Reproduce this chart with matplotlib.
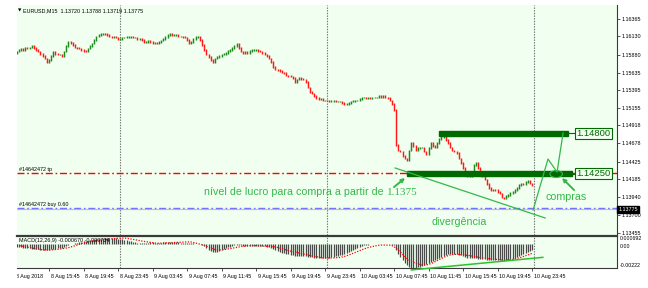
import matplotlib
matplotlib.use("Agg")
import matplotlib.pyplot as plt
import numpy as np
from matplotlib.patches import Rectangle, Ellipse
from matplotlib.transforms import Bbox, blended_transform_factory

# ---- data (EURUSD M15, bar 1 = 8 Aug 2018 12:00 ... bar 240 = 10 Aug 23:45) ----
first_open = 1.1590
closes = [
    1.1592, 1.1594, 1.1596, 1.1594, 1.1597, 1.1596, 1.1598, 1.1600, 1.1597, 1.1594,
    1.1592, 1.1589, 1.1586, 1.1583, 1.1578, 1.1581, 1.1586, 1.1592, 1.1589, 1.1588,
    1.1588, 1.1586, 1.1592, 1.1600, 1.1605, 1.1604, 1.1601, 1.1598, 1.1597, 1.1596,
    1.1594, 1.1593, 1.1592, 1.1596, 1.1600, 1.1603, 1.1608, 1.1613, 1.1615, 1.1616,
    1.1617, 1.1616, 1.1615, 1.1613, 1.1612, 1.1612, 1.1611, 1.1609, 1.1609, 1.1611,
    1.1611, 1.1612, 1.1612, 1.1612, 1.1611, 1.1611, 1.1609, 1.1609, 1.1608, 1.1605,
    1.1605, 1.1607, 1.1605, 1.1604, 1.1604, 1.1603, 1.1605, 1.1607, 1.1609, 1.1612,
    1.1615, 1.1616, 1.1615, 1.1615, 1.1615, 1.1613, 1.1613, 1.1612, 1.1611, 1.1608,
    1.1604, 1.1605, 1.1609, 1.1612, 1.1613, 1.1608, 1.1601, 1.1594, 1.1588, 1.1585,
    1.1581, 1.1578, 1.1583, 1.1585, 1.1586, 1.1588, 1.1589, 1.1590, 1.1593, 1.1594,
    1.1597, 1.1600, 1.1603, 1.1597, 1.1592, 1.1590, 1.1592, 1.1590, 1.1593, 1.1594,
    1.1594, 1.1594, 1.1593, 1.1592, 1.1590, 1.1588, 1.1586, 1.1583, 1.1578, 1.1571,
    1.1568, 1.1567, 1.1566, 1.1564, 1.1563, 1.1560, 1.1559, 1.1558, 1.1556, 1.1551,
    1.1554, 1.1556, 1.1555, 1.1554, 1.1551, 1.1543, 1.1537, 1.1535, 1.1532, 1.1529,
    1.1528, 1.1528, 1.1526, 1.1526, 1.1526, 1.1525, 1.1525, 1.1525, 1.1524, 1.1524,
    1.1524, 1.1522, 1.1520, 1.1521, 1.1522, 1.1524, 1.1525, 1.1526, 1.1526, 1.1528,
    1.1530, 1.1530, 1.1529, 1.1530, 1.1529, 1.1530, 1.1530, 1.1530, 1.1532, 1.1530,
    1.1532, 1.1530, 1.1529, 1.1526, 1.1521, 1.1513, 1.1465, 1.1458, 1.1456, 1.1450,
    1.1447, 1.1445, 1.1458, 1.1468, 1.1464, 1.1458, 1.1461, 1.1462, 1.1462, 1.1456,
    1.1452, 1.1461, 1.1468, 1.1464, 1.1462, 1.1468, 1.1473, 1.1476, 1.1477, 1.1472,
    1.1468, 1.1462, 1.1458, 1.1456, 1.1454, 1.1447, 1.1441, 1.1434, 1.1428, 1.1423,
    1.1422, 1.1428, 1.1438, 1.1441, 1.1434, 1.1427, 1.1423, 1.1418, 1.1412, 1.1407,
    1.1404, 1.1405, 1.1404, 1.1401, 1.1399, 1.1394, 1.1393, 1.1396, 1.1397, 1.1400,
    1.1401, 1.1404, 1.1407, 1.1411, 1.1413, 1.1412, 1.1415, 1.1416, 1.1413, 1.1411,
]

# MACD main (histogram) and signal, in units of 1e-5
macd_main = [
    -31, -31, -31, -40, -40, -40, -40, -49, -49, -49,
    -49, -58, -58, -58, -58, -58, -49, -49, -49, -40,
    -40, -40, -31, -22, -13, -4, -4, 5, 5, 15,
    15, 24, 24, 24, 33, 33, 33, 42, 42, 42,
    42, 51, 51, 51, 51, 51, 51, 42, 42, 42,
    33, 33, 24, 24, 15, 15, 5, 5, 5, 5,
    8, 10, 12, 12, 10, 8, 8, 10, 12, 14,
    14, 15, 15, 15, 14, 12, 10, 8, 6, 5,
    4, 3, 2, 0, -4, -8, -13, -22, -40, -58,
    -67, -76, -76, -76, -67, -58, -49, -40, -31, -31,
    -22, -13, -13, -13, -13, -22, -22, -22, -22, -22,
    -22, -22, -22, -22, -22, -22, -31, -31, -40, -49,
    -58, -67, -76, -86, -86, -95, -95, -104, -104, -113,
    -113, -113, -113, -113, -113, -122, -122, -122, -131, -131,
    -131, -131, -131, -131, -131, -131, -122, -122, -113, -113,
    -104, -104, -95, -86, -76, -67, -58, -49, -40, -31,
    -22, -13, -13, -13, -4, -4, -4, -4, -4, -4,
    -4, -4, -4, -4, -13, -13, -58, -95, -122, -149,
    -177, -195, -213, -222, -222, -222, -213, -213, -204, -195,
    -186, -177, -167, -158, -149, -140, -131, -122, -113, -104,
    -95, -95, -95, -95, -95, -104, -104, -113, -122, -131,
    -131, -131, -131, -131, -140, -140, -140, -140, -149, -149,
    -149, -149, -149, -149, -149, -158, -158, -149, -149, -140,
    -140, -131, -122, -113, -104, -95, -86, -76, -67, -58,
]
macd_signal = [
    -13, -17, -21, -25, -29, -33, -37, -41, -45, -48,
    -51, -54, -56, -58, -58, -58, -57, -56, -54, -52,
    -50, -47, -44, -40, -37, -32, -26, -20, -13, -6,
    0, 5, 10, 15, 19, 23, 27, 30, 32, 33,
    35, 37, 40, 42, 44, 46, 48, 49, 50, 50,
    50, 48, 45, 42, 38, 35, 31, 27, 24, 20,
    17, 14, 11, 8, 5, 3, 3, 4, 5, 6,
    7, 8, 10, 11, 12, 13, 14, 15, 16, 17,
    16, 14, 10, 5, 0, -4, -10, -16, -24, -32,
    -40, -48, -54, -58, -58, -57, -55, -52, -49, -46,
    -42, -38, -34, -30, -27, -24, -22, -20, -19, -19,
    -19, -19, -20, -21, -22, -23, -24, -25, -26, -28,
    -30, -35, -40, -46, -52, -58, -63, -68, -72, -76,
    -80, -85, -90, -95, -100, -104, -108, -112, -116, -120,
    -124, -127, -130, -131, -131, -131, -131, -130, -129, -128,
    -126, -122, -117, -111, -104, -96, -88, -80, -72, -64,
    -56, -49, -42, -36, -31, -26, -22, -18, -15, -13,
    -13, -13, -13, -14, -18, -28, -43, -60, -78, -98,
    -118, -135, -149, -160, -170, -178, -185, -190, -194, -195,
    -195, -190, -183, -175, -165, -155, -145, -135, -125, -117,
    -110, -104, -100, -98, -98, -99, -100, -102, -104, -106,
    -109, -112, -116, -120, -124, -127, -130, -133, -135, -137,
    -139, -141, -143, -145, -147, -149, -149, -149, -148, -146,
    -144, -140, -135, -130, -124, -117, -110, -102, -95, -89,
]

price_ticks = [1.16365, 1.16130, 1.15880, 1.15635, 1.15395, 1.15155, 1.14918,
               1.14678, 1.14425, 1.14185, 1.13940, 1.13700, 1.13455]
time_ticks = [0, 16, 32, 48, 64, 80, 96, 112, 128, 144, 160, 176, 192, 208, 224, 240]
time_labels = ["8 Aug 2018", "8 Aug 15:45", "8 Aug 19:45", "8 Aug 23:45",
               "9 Aug 03:45", "9 Aug 07:45", "9 Aug 11:45", "9 Aug 15:45",
               "9 Aug 19:45", "9 Aug 23:45", "10 Aug 03:45", "10 Aug 07:45",
               "10 Aug 11:45", "10 Aug 15:45", "10 Aug 19:45", "10 Aug 23:45"]
day_breaks = [49, 145, 241]

bid = 1.13775
tp_level = 1.1427
buy_level = 1.1380
macd_top, macd_bottom = 0.000692, -0.00222

# drawn objects: (bar from, bar to, price)
target_bars = [(196.9, 256.7, 1.1481, "1.14800"), (182.0, 258.6, 1.1426, "1.14250")]
wedge_line = ([176.5, 246.1], [1.14339, 1.13659])
zigzag = ([240.5, 247.4, 251.6, 254.4], [1.13767, 1.14461, 1.14284, 1.14815])
macd_line = ([184.0, 245.0], [-0.00240, -0.00125])

# ---- style ----
W, H, DPI = 648, 288, 100
BG = "#f0fff0"
BULL, BEAR = "#1a8a1a", "#ff1a1a"
DKGREEN = "#006a00"
LTGREEN = "#35b84a"
AXCOL = "#3a3a3a"
SMALL = "Liberation Sans"


def px_box(x0, y0, x1, y1):
    return [x0 / W, 1 - y1 / H, (x1 - x0) / W, (y1 - y0) / H]


fig = plt.figure(figsize=(W / DPI, H / DPI), dpi=DPI)
fig.patch.set_facecolor("white")

ax = fig.add_axes(px_box(17, 5, 617, 235))
mx = fig.add_axes(px_box(17, 236, 617, 268))

xlim = (1.16, 279.4)
for a in (ax, mx):
    a.set_facecolor(BG)
    a.set_xlim(*xlim)
    for s in ("left", "top", "bottom", "right"):
        a.spines[s].set_visible(False)
    a.spines["right"].set_visible(True)
    a.spines["right"].set_color(AXCOL)
    a.spines["right"].set_linewidth(0.8)
    for d in day_breaks:
        a.axvline(d, color="#707070", lw=0.8, ls=(0, (1.2, 1.2)), zorder=1)

ax.set_ylim(1.13428, 1.16555)
mx.set_ylim(macd_bottom, macd_top)
mx.spines["top"].set_visible(True)
mx.spines["top"].set_color(AXCOL)
mx.spines["top"].set_linewidth(1.6)
mx.spines["bottom"].set_visible(True)
mx.spines["bottom"].set_color(AXCOL)
mx.spines["bottom"].set_linewidth(0.8)

# candles
closes = np.array(closes)
opens = np.concatenate([[first_open], closes[:-1]])
idx = np.arange(1, len(closes) + 1)
up = closes >= opens
wick = 0.0001
lo = np.minimum(opens, closes) - wick
hi = np.maximum(opens, closes) + wick
ax.vlines(idx[up], lo[up], hi[up], color=BULL, lw=1.05, zorder=3)
ax.vlines(idx[~up], lo[~up], hi[~up], color=BEAR, lw=1.05, zorder=3)

# order lines
ax.axhline(tp_level, color="#ff0000", lw=1.0, ls=(0, (5, 2, 1.2, 2)), zorder=2)
ax.axhline(buy_level, color="#7373ff", lw=1.0, ls=(0, (5, 2, 1.2, 2)), zorder=2)
ax.axhline(bid, color="#c4c4c4", lw=0.9, zorder=1.5)
lab_tr = blended_transform_factory(ax.transAxes, ax.transData)
ax.text(0.003, tp_level + 0.0001, "#14642472 tp", transform=lab_tr, fontsize=3.9,
        family=SMALL, va="bottom", ha="left", color="black")
ax.text(0.003, buy_level + 0.0001, "#14642472 buy 0.60", transform=lab_tr, fontsize=3.9,
        family=SMALL, va="bottom", ha="left", color="black")

# target bars with price boxes
for x0, x1, p, txt in target_bars:
    ax.add_patch(Rectangle((x0, p - 0.00036), x1 - x0, 0.00072, color=DKGREEN, zorder=4))
    ax.plot([x1, 260.4], [p, p], color=DKGREEN, lw=0.8, zorder=4)
    ax.text(260.6, p, txt, fontsize=6.8, family="Liberation Sans", color=DKGREEN,
            va="center", ha="left", zorder=5,
            bbox=dict(boxstyle="square,pad=0.12", fc=BG, ec=DKGREEN, lw=0.8))

# hand drawn lines
ax.plot(*wedge_line, color=LTGREEN, lw=0.9, zorder=4)
ax.plot(*zigzag, color=LTGREEN, lw=0.9, zorder=4)
ax.add_patch(Ellipse((251.2, 1.14257), 5.8, 0.00095, fill=False, ec=LTGREEN, lw=0.8, zorder=5))
arrow = dict(arrowstyle="-|>", color=LTGREEN, lw=1.4, mutation_scale=5, shrinkA=0, shrinkB=0)
ax.annotate("", xy=(253.9, 1.14203), xytext=(259.5, 1.14039), arrowprops=arrow, zorder=5)
ax.annotate("", xy=(181.1, 1.14203), xytext=(176.0, 1.14080), arrowprops=arrow, zorder=5)

t1 = ax.text(87.9, 1.14012, "nível de lucro para compra a partir de ", fontsize=7.7,
             family="Liberation Sans", color=LTGREEN, va="center", ha="left", zorder=5)
ax.annotate("1.1375", xy=(1, 0), xycoords=t1, va="bottom", ha="left", fontsize=8,
            family="Liberation Serif", color=LTGREEN, zorder=5)
ax.text(193.6, 1.13604, "divergência", fontsize=7.7, family="Liberation Sans",
        color=LTGREEN, va="center", ha="left", zorder=5)
ax.text(246.1, 1.13944, "compras", fontsize=7.7, family="Liberation Sans",
        color=LTGREEN, va="center", ha="left", zorder=5)

# price axis
ax.yaxis.tick_right()
ax.set_yticks(price_ticks)
ax.set_yticklabels([f"{p:.5f}" for p in price_ticks], family=SMALL)
ax.tick_params(axis="y", length=2, width=0.6, pad=1.5, labelsize=3.9, colors=AXCOL,
               labelcolor="black")
ax.set_xticks([])
ax.text(1.002, bid, f"{bid:.5f}", transform=lab_tr, fontsize=3.9, family=SMALL,
        color="white", va="center", ha="left", clip_on=False, zorder=6,
        bbox=dict(boxstyle="square,pad=0.15", fc="black", ec="black"))

# title
fig.text(17.5 / W, 1 - 11 / H, "▼", fontsize=3.2, va="center", ha="left")
fig.text(23 / W, 1 - 11 / H, "EURUSD,M15  1.13720 1.13788 1.13719 1.13775",
         fontsize=3.9, family=SMALL, va="center", ha="left")

# MACD panel
macd_main = np.array(macd_main) * 1e-5
macd_signal = np.array(macd_signal) * 1e-5
mx.vlines(idx, 0, macd_main, color="#4a4a4a", lw=0.9, zorder=2)
mx.plot(idx, macd_signal, color="#ff0000", lw=0.9, ls=(0, (1, 1.2)), zorder=3)
mx.plot(*macd_line, color="#2fc02f", lw=1.1, zorder=4, clip_on=False)
mx.text(0.003, 0.93, "MACD(12,26,9) -0.000670 -0.000734", transform=mx.transAxes,
        fontsize=3.9, family=SMALL, va="top", ha="left", zorder=5)
mtr = blended_transform_factory(mx.transAxes, mx.transData)
mx.text(1.005, macd_top, "0.000692", transform=mtr, fontsize=3.8, family=SMALL,
        va="top", ha="left")
mx.text(1.005, 0.0, "0.00", transform=mtr, fontsize=3.8, family=SMALL, va="top", ha="left")
mx.text(1.005, macd_bottom, "-0.00222", transform=mtr, fontsize=3.8, family=SMALL,
        va="bottom", ha="left")
mx.set_yticks([])

# time axis
mx.set_xticks([t for t in time_ticks if t > xlim[0]])
mx.set_xticklabels([])
mx.tick_params(axis="x", length=2.5, width=0.6, colors=AXCOL)
clip = Bbox.from_extents(17, 0, W, H)
ttr = blended_transform_factory(mx.transData, mx.transAxes)
for t, lab in zip(time_ticks, time_labels):
    txt = mx.text(t + 0.9, -0.2, lab, transform=ttr, fontsize=3.8, family=SMALL,
                  va="top", ha="left", clip_on=True)
    txt.set_clip_box(clip)

fig.savefig("out.png", dpi=DPI, facecolor=fig.get_facecolor())
